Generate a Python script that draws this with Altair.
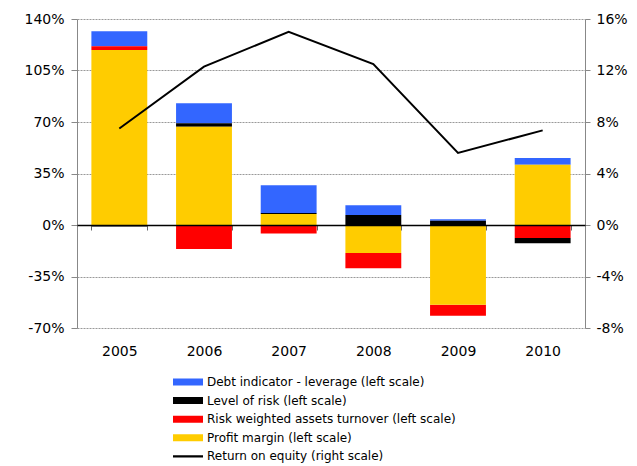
import altair as alt
import pandas as pd

years = ["2005", "2006", "2007", "2008", "2009", "2010"]
series = [
    "Debt indicator - leverage (left scale)",
    "Level of risk (left scale)",
    "Risk weighted assets turnover (left scale)",
    "Profit margin (left scale)",
]
roe_name = "Return on equity (right scale)"

debt = [10.2, 13.6, 18.8, 6.6, 1.0, 4.5]
risk_level = [-1.0, 2.3, 0.7, 6.8, 2.9, -3.6]
rwa_turnover = [2.5, -16.3, -5.7, -10.4, -7.5, -8.8]
profit_margin = [118.9, 66.8, 7.5, -19.0, -54.2, 41.0]
roe = [7.5, 12.3, 15.0, 12.5, 5.6, 7.35]

colors = ["#3366FF", "#000000", "#FF0000", "#FFCC00", "#000000"]
stack_rank = [3, 2, 1, 0]

left_ticks = [-70, -35, 0, 35, 70, 105, 140]
right_ticks = [-8, -4, 0, 4, 8, 12, 16]

rows = []
for s, vals, r in zip(series, [debt, risk_level, rwa_turnover, profit_margin], stack_rank):
    for y, v in zip(years, vals):
        rows.append({"year": y, "series": s, "value": v, "rank": r})
bar_df = pd.DataFrame(rows)
roe_df = pd.DataFrame({"year": years, "roe": roe})

FONT = "DejaVu Sans"

rect_path = "M-1,-0.233L1,-0.233L1,0.233L-1,0.233Z"
line_path = "M-1,-0.07L1,-0.07L1,0.07L-1,0.07Z"
shape_expr = (
    "datum.value === '" + roe_name + "' ? '" + line_path + "' : '" + rect_path + "'"
)

bars = alt.Chart(bar_df).mark_bar().encode(
    x=alt.X(
        "year:N",
        sort=years,
        title=None,
        scale=alt.Scale(paddingInner=0.34, paddingOuter=0.17),
        axis=alt.Axis(
            orient="bottom",
            offset=-103,
            domainColor="black",
            domainWidth=1.5,
            tickBand="extent",
            tickSize=5,
            tickColor="#666666",
            labelPadding=114,
            labelFontSize=14,
            labelFont=FONT,
            labelColor="black",
            labelAngle=0,
            grid=False,
            zindex=1,
        ),
    ),
    y=alt.Y(
        "value:Q",
        stack="zero",
        title=None,
        scale=alt.Scale(domain=[-70, 140], nice=False),
        axis=alt.Axis(
            values=left_ticks,
            labelExpr="datum.value + '%'",
            grid=True,
            gridDash=[2, 1],
            gridColor="#999999",
            domainColor="#888888",
            tickColor="#888888",
            tickSize=6,
            labelPadding=7,
            labelFontSize=14,
            labelFont=FONT,
            labelColor="black",
        ),
    ),
    color=alt.Color(
        "series:N",
        scale=alt.Scale(domain=series + [roe_name], range=colors),
        legend=alt.Legend(
            orient="none",
            legendX=96,
            legendY=354,
            title=None,
            padding=0,
            symbolType={"expr": shape_expr},
            symbolSize=900,
            symbolStrokeWidth=0,
            clipHeight=18,
            rowPadding=0.6,
            labelOffset=4,
            labelFontSize=12,
            labelFont=FONT,
            labelColor="black",
            labelLimit=0,
        ),
    ),
    order=alt.Order("rank:Q", sort="ascending"),
)

line = alt.Chart(roe_df).mark_line(color="black", strokeWidth=2).encode(
    x=alt.X("year:N", sort=years, title=None),
    y=alt.Y(
        "roe:Q",
        title=None,
        scale=alt.Scale(domain=[-8, 16], nice=False),
        axis=alt.Axis(
            orient="right",
            values=right_ticks,
            labelExpr="datum.value + '%'",
            grid=False,
            domainColor="#888888",
            tickColor="#888888",
            tickSize=5,
            labelPadding=6,
            labelFontSize=14,
            labelFont=FONT,
            labelColor="black",
        ),
    ),
)

chart = (
    alt.layer(bars, line)
    .resolve_scale(y="independent")
    .properties(
        width=508,
        height=309,
        padding={"left": 69, "top": 11, "right": 44, "bottom": 138},
        autosize="none",
        background="white",
    )
    .configure_view(strokeWidth=0)
)

chart.save("out.html", embed_options={"renderer": "svg", "actions": False})
